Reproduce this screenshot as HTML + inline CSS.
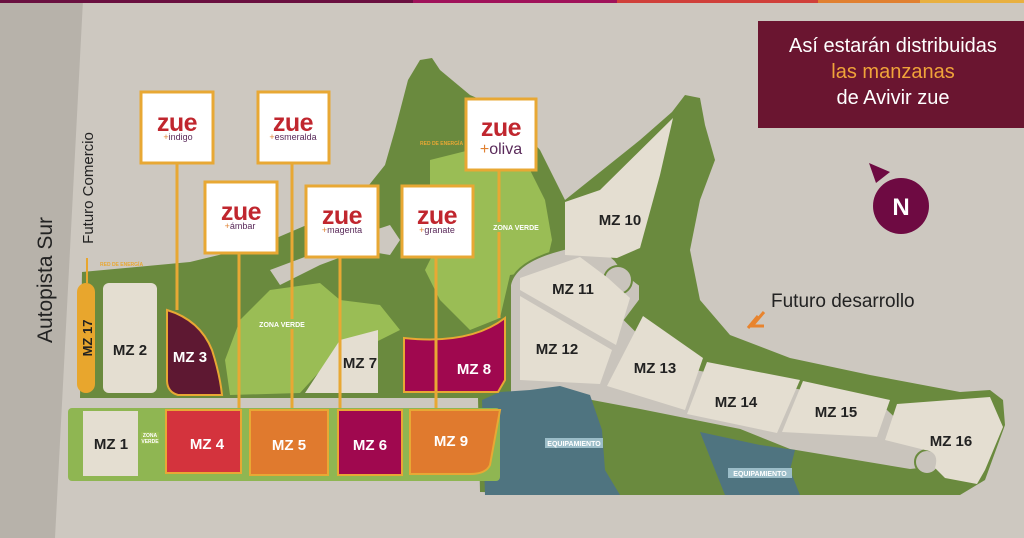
<!DOCTYPE html>
<html><head><meta charset="utf-8"><style>
html,body{margin:0;padding:0;width:1024px;height:538px;overflow:hidden;background:#cdc8c0}
svg{display:block}
text{font-family:"Liberation Sans",sans-serif}
</style></head><body>
<svg width="1024" height="538" viewBox="0 0 1024 538" xmlns="http://www.w3.org/2000/svg">
<rect width="1024" height="538" fill="#cdc8c0"/>
<polygon points="0,0 83,0 55,538 0,538" fill="#b7b2aa"/>
<rect x="0" y="0" width="413" height="3" fill="#6a1040"/>
<rect x="413" y="0" width="204" height="3" fill="#a0125a"/>
<rect x="617" y="0" width="201" height="3" fill="#d0403a"/>
<rect x="818" y="0" width="102" height="3" fill="#e08030"/>
<rect x="920" y="0" width="104" height="3" fill="#e8b040"/>

<path d="M82,272 L190,262 L260,245 L330,215 L365,190 L385,165 L395,130 L408,80 L420,60 L432,58 L440,70 L470,95 L505,110 L540,150 L565,200 L640,140 L672,112 L685,95 L700,98 L705,125 L715,160 L700,200 L690,250 L700,300 L730,335 L790,358 L870,375 L960,392 L990,390 L1003,400 L1005,425 L985,480 L960,495 L620,495 L480,492 L478,398 L80,398 Z" fill="#6a8a3e"/>
<path d="M225,360 L240,320 L270,290 L320,283 L340,300 L380,305 L400,330 L370,345 L330,360 L300,393 L230,395 Z" fill="#9abd55"/>
<path d="M430,160 L470,150 L500,160 L530,170 L545,200 L552,240 L545,270 L510,275 L500,318 L470,330 L440,300 L425,270 L440,240 L460,220 L430,200 Z" fill="#9abd55"/>
<path d="M280,285 L320,265 L360,250 L390,255 L400,240 L390,225 L360,235 L310,255 L270,270 Z" fill="#cdc8c0"/>
<path d="M510,400 L510,285 Q515,262 560,250 Q595,240 615,260 Q625,275 640,285 L640,300 L625,320 L650,345 L690,368 L780,385 L880,402 L920,440 Q935,450 930,468 L910,470 L790,450 L740,430 L640,410 L560,395 L530,398 Z" fill="#c9c4bc" stroke="#6a8a3e" stroke-width="2"/>
<circle cx="618" cy="280" r="14" fill="#c9c4bc" stroke="#6a8a3e" stroke-width="2"/>
<circle cx="927" cy="462" r="12" fill="#c9c4bc" stroke="#6a8a3e" stroke-width="2"/>
<path d="M500,392 L530,390 L560,386 L590,395 L602,430 L605,470 L620,495 L485,495 L482,400 Z" fill="#4f7480"/>
<path d="M700,432 L760,445 L795,450 L790,470 L800,495 L725,495 L715,470 Z" fill="#4f7480"/>
<polygon points="565,202 600,190 673,118 660,175 640,248 617,258 565,255" fill="#e4ded1"/>
<polygon points="520,278 580,257 608,278 630,298 616,345 520,290" fill="#e4ded1"/>
<polygon points="520,296 612,350 600,384 520,380" fill="#e4ded1"/>
<polygon points="643,316 703,358 685,410 607,386" fill="#e4ded1"/>
<polygon points="707,362 800,380 777,433 687,414" fill="#e4ded1"/>
<polygon points="803,381 890,400 877,437 782,432" fill="#e4ded1"/>
<path d="M897,404 L990,397 L1003,427 L985,470 L977,484 L945,478 L935,468 Q940,452 925,450 L885,440 Z" fill="#e4ded1"/>

<rect x="66" y="400" width="80" height="8" fill="#cdc8c0"/>
<rect x="77" y="283" width="18" height="110" rx="9" fill="#e8a62d"/>
<line x1="87" y1="258" x2="87" y2="283" stroke="#e8a62d" stroke-width="2"/>
<rect x="103" y="283" width="54" height="110" rx="6" fill="#e4ded1"/>
<path d="M167,310 Q200,320 212,350 Q220,375 222,395 L178,395 Q167,392 167,380 Z" fill="#5e1832" stroke="#e8a834" stroke-width="2"/>
<polygon points="305,393 340,340 378,330 378,393" fill="#e4ded1"/>
<path d="M404,338 L404,392 L498,392 L505,380 L505,318 Q470,345 404,338 Z" fill="#a0084f" stroke="#e8a834" stroke-width="2"/>

<rect x="68" y="408" width="432" height="73" rx="4" fill="#8fb652"/>
<rect x="83" y="411" width="55" height="65" fill="#e4ded1"/>
<rect x="166" y="410" width="75" height="63" fill="#d4333d" stroke="#e8a834" stroke-width="2"/>
<rect x="250" y="410" width="78" height="65" fill="#e07a2e" stroke="#e8a834" stroke-width="2"/>
<rect x="338" y="410" width="64" height="65" fill="#a0084f" stroke="#e8a834" stroke-width="2"/>
<path d="M410,410 L500,410 L490,465 Q486,474 470,474 L410,474 Z" fill="#e07a2e" stroke="#e8a834" stroke-width="2"/>
<rect x="141" y="432" width="18" height="12" fill="#9abd55"/>
<text x="150" y="437" font-size="5" fill="#fff" text-anchor="middle" font-weight="bold">ZONA</text>
<text x="150" y="443" font-size="5" fill="#fff" text-anchor="middle" font-weight="bold">VERDE</text>

<g stroke="#e8a834" stroke-width="3">
<line x1="177" y1="163" x2="177" y2="310"/>
<line x1="292" y1="163" x2="292" y2="408"/>
<line x1="499" y1="170" x2="499" y2="318"/>
<line x1="239" y1="253" x2="239" y2="408"/>
<line x1="340" y1="257" x2="340" y2="408"/>
<line x1="436" y1="257" x2="436" y2="408"/>
</g>
<g fill="#fff" stroke="#e8a834" stroke-width="3">
<rect x="141" y="92" width="72" height="71"/>
<rect x="258" y="92" width="71" height="71"/>
<rect x="466" y="99" width="70" height="71"/>
<rect x="205" y="182" width="72" height="71"/>
<rect x="306" y="186" width="72" height="71"/>
<rect x="402" y="186" width="71" height="71"/>
</g>
<g font-size="25" font-weight="bold" fill="#c0262e" text-anchor="middle" letter-spacing="-0.5">
<text x="177" y="131">zue</text>
<text x="293" y="131">zue</text>
<text x="501" y="136">zue</text>
<text x="241" y="220">zue</text>
<text x="342" y="224">zue</text>
<text x="437" y="224">zue</text>
</g>
<g font-size="9" fill="#5a2a5a" text-anchor="middle">
<text x="178" y="140"><tspan fill="#e08030">+</tspan>indigo</text>
<text x="293" y="140"><tspan fill="#e08030">+</tspan>esmeralda</text>
<text x="240" y="229"><tspan fill="#e08030">+</tspan>ámbar</text>
<text x="342" y="233"><tspan fill="#e08030">+</tspan>magenta</text>
<text x="437" y="233"><tspan fill="#e08030">+</tspan>granate</text>
<text x="501" y="154" font-size="16"><tspan fill="#e08030">+</tspan>oliva</text>
</g>

<g font-weight="bold" font-size="15" fill="#222" text-anchor="middle">
<text x="130" y="355">MZ 2</text>
<text x="111" y="449">MZ 1</text>
<text x="360" y="368">MZ 7</text>
<text x="620" y="225">MZ 10</text>
<text x="573" y="294">MZ 11</text>
<text x="557" y="354">MZ 12</text>
<text x="655" y="373">MZ 13</text>
<text x="736" y="407">MZ 14</text>
<text x="836" y="417">MZ 15</text>
<text x="951" y="446">MZ 16</text>
</g>
<g font-weight="bold" font-size="15" fill="#fff" text-anchor="middle">
<text x="190" y="362">MZ 3</text>
<text x="474" y="374">MZ 8</text>
<text x="207" y="449">MZ 4</text>
<text x="289" y="450">MZ 5</text>
<text x="370" y="450">MZ 6</text>
<text x="451" y="446">MZ 9</text>
</g>
<text x="0" y="0" transform="translate(92,338) rotate(-90)" font-weight="bold" font-size="13" fill="#222" text-anchor="middle">MZ 17</text>
<text x="0" y="0" transform="translate(52,280) rotate(-90)" font-size="21" fill="#222" text-anchor="middle">Autopista Sur</text>
<text x="0" y="0" transform="translate(93,188) rotate(-90)" font-size="15" fill="#222" text-anchor="middle">Futuro Comercio</text>
<rect x="249" y="319" width="67" height="10" fill="#9abd55"/>
<text x="282" y="327" font-size="7" font-weight="bold" fill="#fff" text-anchor="middle">ZONA VERDE</text>
<rect x="486" y="222" width="60" height="10" fill="#9abd55"/>
<text x="516" y="230" font-size="7" font-weight="bold" fill="#fff" text-anchor="middle">ZONA VERDE</text>
<rect x="545" y="438" width="58" height="10" fill="#9bbdc8"/>
<text x="574" y="446" font-size="7" font-weight="bold" fill="#fff" text-anchor="middle">EQUIPAMIENTO</text>
<rect x="728" y="468" width="64" height="10" fill="#9bbdc8"/>
<text x="760" y="476" font-size="7" font-weight="bold" fill="#fff" text-anchor="middle">EQUIPAMIENTO</text>
<text x="420" y="145" font-size="5" fill="#e8a834" font-weight="bold">RED DE ENERGÍA</text>
<text x="100" y="266" font-size="5" fill="#e8a834" font-weight="bold">RED DE ENERGÍA</text>

<text x="771" y="307" font-size="19" fill="#222">Futuro desarrollo</text>
<path d="M764,312 L752,326 L764,326 M758,316 L748,328" stroke="#e8842e" stroke-width="3" fill="none"/>

<rect x="758" y="21" width="266" height="107" fill="#6a1530"/>
<g font-size="20" text-anchor="middle" fill="#fff">
<text x="893" y="52">Así estarán distribuidas</text>
<text x="893" y="78" fill="#f0a33a">las manzanas</text>
<text x="893" y="104">de Avivir zue</text>
</g>
<circle cx="901" cy="206" r="28" fill="#6e0a42"/>
<polygon points="869,163 890,172 876,183" fill="#6e0a42"/>
<text x="901" y="215" font-size="24" font-weight="bold" fill="#fff" text-anchor="middle" font-family="Liberation Serif,serif">N</text>
</svg>
</body></html>
